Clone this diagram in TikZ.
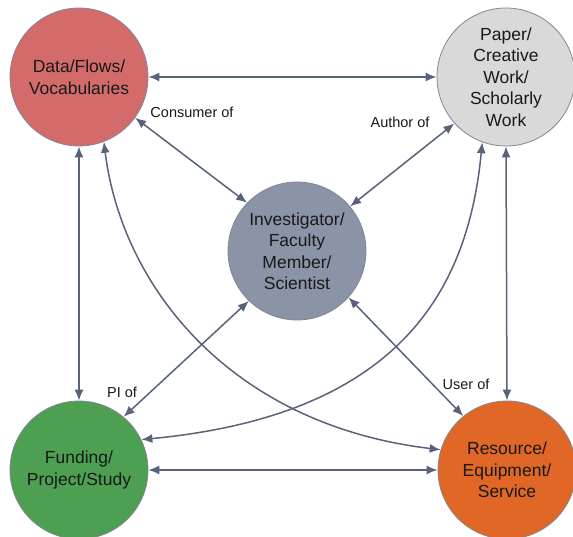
\documentclass[tikz,border=0pt]{standalone}
\usepackage{fontspec}
\setmainfont{Liberation Sans}
\usetikzlibrary{arrows.meta}
\definecolor{cdata}{RGB}{212,107,107}
\definecolor{cpaper}{RGB}{217,217,217}
\definecolor{cinv}{RGB}{139,147,166}
\definecolor{cfund}{RGB}{77,159,81}
\definecolor{cres}{RGB}{224,103,38}
\definecolor{cedge}{RGB}{88,98,122}
\definecolor{cborder}{RGB}{130,134,145}
\definecolor{ctext}{RGB}{25,25,25}
\tikzset{
  ent/.style={circle, draw=cborder, line width=0.8pt, minimum size=138pt, inner sep=0pt,
    align=center, text=ctext, font=\fontsize{17.5}{21.5}\selectfont},
  link/.style={draw=cedge, line width=1.5pt, {Latex[length=11pt,width=9pt]}-{Latex[length=11pt,width=9pt]}},
  lbl/.style={text=ctext, font=\fontsize{14.5}{17}\selectfont, inner sep=0pt}
}
\begin{document}
\begin{tikzpicture}[x=1pt,y=-1pt]
\useasboundingbox (0,0) rectangle (573,537);
\node[ent, fill=cdata] (data) at (79,77) {Data/Flows/\\Vocabularies};
\node[ent, fill=cpaper] (paper) at (506,77) {Paper/\\Creative\\Work/\\Scholarly\\Work};
\node[ent, fill=cinv] (inv) at (297,251) {Investigator/\\Faculty\\Member/\\Scientist};
\node[ent, fill=cfund] (fund) at (79,470) {Funding/\\Project/Study};
\node[ent, fill=cres] (res) at (507,470) {Resource/\\Equipment/\\Service};

\draw[link] (data.east) -- (paper.west);
\draw[link] (fund.east) -- (res.west);
\draw[link] (data.south) -- (fund.north);
\draw[link] (paper.south) -- (res.north);
\draw[link] (data.324) -- (inv.136);
\draw[link] (paper.222) -- (inv.40);
\draw[link] (fund.50) -- (inv.226);
\draw[link] (res.129) -- (inv.318);
\draw[link] (data.291) .. controls (122,288) and (232,425) .. (res.163);
\draw[link] (paper.250) .. controls (468,290) and (400,415) .. (fund.26);

\node[lbl] (lcons) at (192,112) {Consumer of};
\node[lbl] (lauth) at (400,122) {Author of};
\node[lbl] (lpi) at (122,392) {PI of};
\node[lbl] (luser) at (466,384) {User of};
\end{tikzpicture}
\end{document}
